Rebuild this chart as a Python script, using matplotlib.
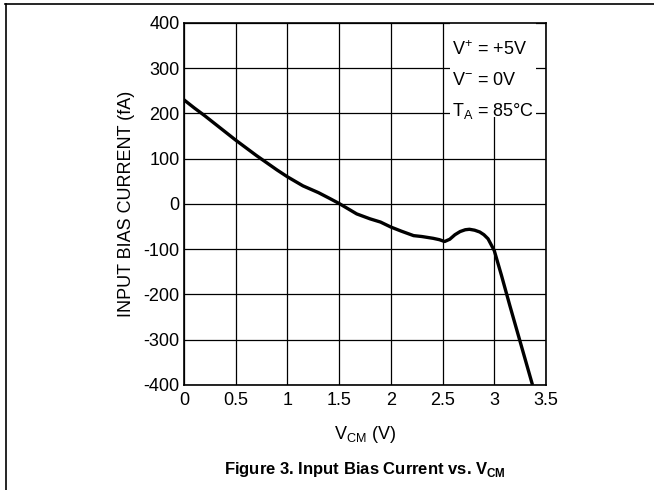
import matplotlib.pyplot as plt
from matplotlib.patches import Rectangle
from matplotlib.lines import Line2D

# data
vcm = [0, 0.1, 0.2, 0.3, 0.4, 0.5, 0.6, 0.7, 0.8, 0.9, 1.0, 1.15, 1.3, 1.41,
       1.5, 1.67, 1.8, 1.9, 2.0, 2.1, 2.22, 2.3, 2.41, 2.47, 2.52, 2.57, 2.62,
       2.67, 2.72, 2.76, 2.81, 2.86, 2.9, 2.94, 3.0, 3.07, 3.15, 3.25, 3.37]
ib = [230, 212, 195, 177, 159, 141, 124, 107, 91, 75, 60, 40, 25, 12,
      1, -22, -33, -40, -51, -60, -70, -72, -76, -79, -83, -78, -68,
      -61, -57, -56, -58, -62, -68, -77, -103, -158, -224, -304, -400]

x_ticks = [0, 0.5, 1, 1.5, 2, 2.5, 3, 3.5]
x_tick_labels = ['0', '0.5', '1', '1.5', '2', '2.5', '3', '3.5']
y_ticks = [-400, -300, -200, -100, 0, 100, 200, 300, 400]

plt.rcParams['font.family'] = ['Liberation Sans', 'DejaVu Sans']
plt.rcParams['axes.unicode_minus'] = False

fs = 13

fig = plt.figure(figsize=(6.54, 4.9), dpi=100)
ax = fig.add_axes([0.2813, 0.2143, 0.5535, 0.739])

ax.plot(vcm, ib, color='black', linewidth=2.4, solid_capstyle='butt',
        solid_joinstyle='round', zorder=5)

ax.set_xlim(0, 3.5)
ax.set_ylim(-400, 400)
ax.set_xticks(x_ticks)
ax.set_xticklabels(x_tick_labels)
ax.set_yticks(y_ticks)
ax.tick_params(length=0, labelsize=fs, pad=3)
ax.tick_params(axis='x', pad=5)
ax.grid(True, color='black', linewidth=0.9)
ax.set_axisbelow(True)
for sp in ax.spines.values():
    sp.set_linewidth(1.2)

ax.set_xlabel('V$_{\\mathregular{CM}}$ (V)', fontsize=fs, labelpad=11)
ax.set_ylabel('INPUT BIAS CURRENT (fA)', fontsize=fs, labelpad=6)

# white patch behind the conditions text
ax.add_patch(Rectangle((2.57, 191), 0.83, 209, facecolor='white',
                       edgecolor='none', zorder=2))
ax.text(2.59, 340, 'V$^{\\mathregular{+}}$ = +5V', fontsize=fs, va='center', zorder=6)
ax.text(2.59, 272, 'V$^{\\mathregular{-}}$ = 0V', fontsize=fs, va='center', zorder=6)
ax.text(2.59, 205, 'T$_{\\mathregular{A}}$ = 85°C', fontsize=fs, va='center', zorder=6)

fig.text(0.558, 0.042, 'Figure 3. Input Bias Current vs. V$_{\\mathregular{CM}}$',
         fontsize=12, fontweight='bold', ha='center', va='center')

# page border lines (top and left)
fig.add_artist(Line2D([0.008, 1.0], [0.992, 0.992], color='black', linewidth=1.2))
fig.add_artist(Line2D([0.009, 0.009], [0.0, 0.992], color='black', linewidth=1.2))

fig.savefig('out.png', dpi=100)
